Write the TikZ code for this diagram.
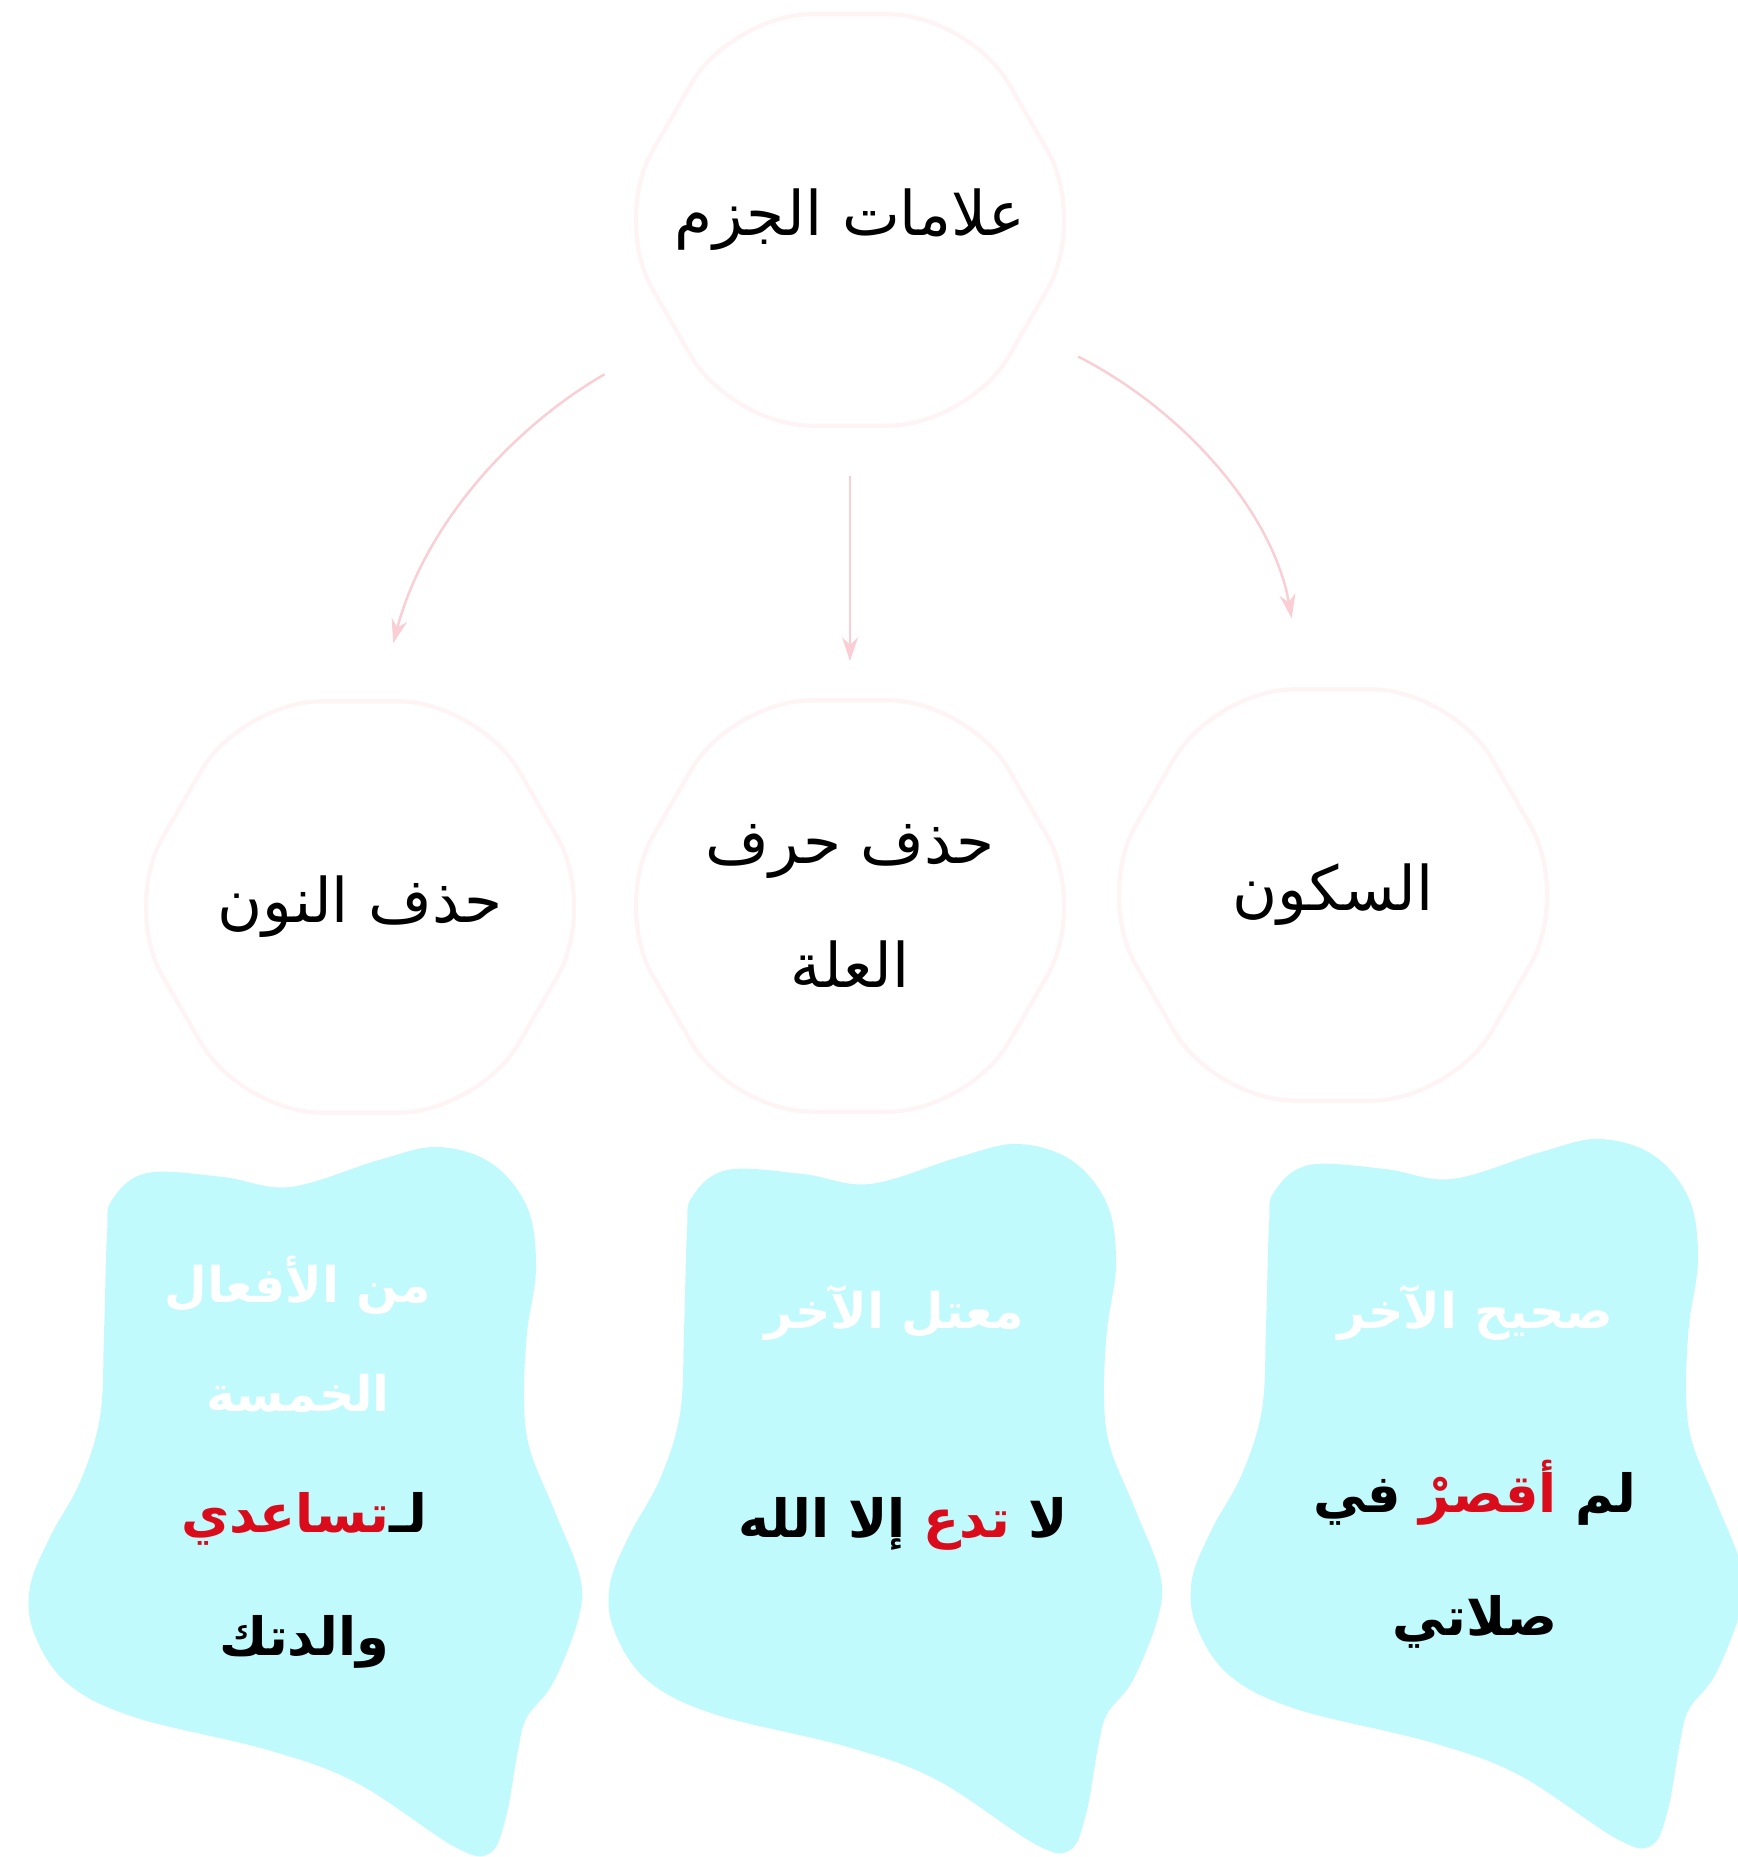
\documentclass[tikz,border=0pt]{standalone}
\usepackage{fontspec}
\newfontfamily\arabicfont[Script=Arabic]{DejaVu Sans}
\TeXXeTstate=1
\usetikzlibrary{shapes.geometric,arrows.meta}
\definecolor{hexline}{RGB}{254,244,246}
\definecolor{linkpink}{RGB}{250,206,212}
\definecolor{blobcyan}{RGB}{192,250,252}
\definecolor{wordred}{RGB}{218,12,28}
\tikzset{
  hexa/.style={regular polygon, regular polygon sides=6, minimum size=4.75cm, inner sep=0pt,
    rounded corners=0.8cm, draw=hexline, line width=1.2pt},
  hexlabel/.style={align=center, inner sep=0pt},
  link/.style={draw=linkpink, line width=0.7pt, -{Stealth[length=2.4mm,width=1.6mm]}},
  headtext/.style={text=white, font=\arabicfont\bfseries\fontsize{14}{31}\selectfont, align=center},
  exampletext/.style={font=\arabicfont\bfseries\fontsize{15}{35}\selectfont, align=center}
}
\def\redword#1{\beginL\textcolor{wordred}{#1}\endL}
\def\blob(#1){\fill[blobcyan, shift={(#1)}] plot[smooth cycle, tension=0.6] coordinates {
  (1.12,6.57) (1.47,6.84) (2.23,6.80) (2.90,6.70) (3.79,6.97) (4.37,7.10) (4.91,6.94)
  (5.27,6.50) (5.36,5.90) (5.27,5.24) (5.24,4.57) (5.30,4.07) (5.55,3.45) (5.80,2.80)
  (5.78,2.37) (5.53,1.74) (5.27,1.40) (5.18,1.07) (5.06,0.40) (4.90,0.04) (4.55,0.10)
  (3.57,0.74) (2.68,1.07) (1.34,1.40) (0.67,1.74) (0.34,2.24) (0.30,2.70) (0.50,3.20)
  (0.80,3.75) (1.00,4.40) (1.04,5.24) (1.07,6.24)};}

\begin{document}
\begin{tikzpicture}[font=\arabicfont\fontsize{17.5}{35}\selectfont]
			%%%%% START %%%%%
			\useasboundingbox (0,0) rectangle (17.37,18.57);
			
			\node[hexa, label={[hexlabel]center:\beginR علامات الجزم\endR}] (jazm) at (8.50,16.37) {};
			
			\node[hexa, label={[hexlabel]center:\beginR حذف النون\endR}] (nun) at (3.60,9.50) {};
			\node[hexa, label={[hexlabel]center:{\beginR حذف حرف\endR\\\beginR العلة\endR}}] (illa) at (8.50,9.51) {};
			\node[hexa, label={[hexlabel]center:\beginR السكون\endR}] (sukun) at (13.33,9.62) {};
			
			\draw[link, shorten <=0.82cm, shorten >=0.58cm] (jazm.213) to[out=210, in=75] (nun.85);
			\draw[link, shorten <=0.48cm, shorten >=0.37cm] (jazm.south) -- (illa.north);
			\draw[link, shorten <=0.58cm, shorten >=0.70cm] (jazm.328) to[out=333, in=100] (sukun.98);
			
			\blob(0,0)
			\blob(5.80,0.03)
			\blob(11.62,0.08)
			
			\node[headtext] (nunhead) at (2.98,5.23) {\beginR من الأفعال\endR\\\beginR الخمسة\endR};
			\node[exampletext] (nunex) at (3.04,2.77) {\beginR لـ\redword{تساعدي}\endR\\\beginR والدتك\endR};
			
			\node[headtext] (illahead) at (8.94,5.44) {\beginR معتل الآخر\endR};
			\node[exampletext] (illaex) at (9.03,3.33) {\beginR لا \redword{تدع} إلا الله\endR};
			
			\node[headtext] (sukunhead) at (14.75,5.44) {\beginR صحيح الآخر\endR};
			\node[exampletext] (sukunex) at (14.75,3.03) {\beginR لم \redword{أقصرْ} في\endR\\\beginR صلاتي\endR};
			
			%%%%% END %%%%%
\end{tikzpicture}
\end{document}
